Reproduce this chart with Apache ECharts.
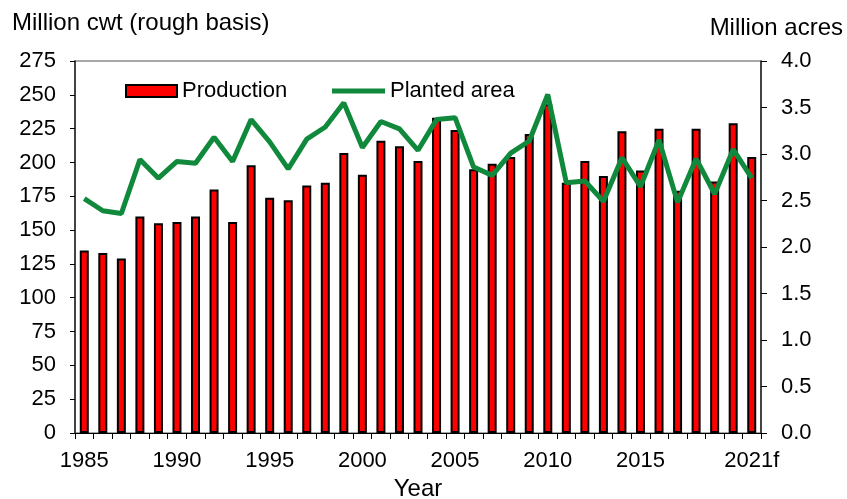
<!DOCTYPE html>
<html>
<head>
<meta charset="utf-8">
<script src="https://cdn.jsdelivr.net/npm/echarts@6/dist/echarts.min.js"></script>
<style>
  html, body { margin: 0; padding: 0; background: #fff; }
</style>
</head>
<body>
<div id="main" style="width: 847px;height:499px;"></div>
<script>
    var years = ['1985','1986','1987','1988','1989','1990','1991','1992','1993','1994',
        '1995','1996','1997','1998','1999','2000','2001','2002','2003','2004',
        '2005','2006','2007','2008','2009','2010','2011','2012','2013','2014',
        '2015','2016','2017','2018','2019','2020','2021f'];
    // million cwt, rough basis
    var production = [135, 133, 129, 160, 155, 156, 160, 180, 156, 198,
        174, 172, 183, 185, 207, 191, 216, 212, 201, 233,
        224, 195, 199, 204, 221, 243, 185, 201, 190, 223,
        194, 225, 179, 225, 186, 229, 204];
    // million acres
    var plantedArea = [2.52, 2.39, 2.36, 2.94, 2.74, 2.92, 2.90, 3.18, 2.92, 3.37,
        3.13, 2.84, 3.16, 3.29, 3.55, 3.07, 3.35, 3.27, 3.04, 3.37,
        3.39, 2.86, 2.77, 3.01, 3.14, 3.64, 2.69, 2.71, 2.49, 2.96,
        2.65, 3.15, 2.48, 2.95, 2.57, 3.05, 2.74];
    var shownLabels = ['1985','1990','1995','2000','2005','2010','2015','2021f'];

    var font = 'Liberation Sans, Arial, sans-serif';
    var fs = 22;
    var green = '#11893C';
    var myChart = echarts.init(document.getElementById('main'));

    var option = {
        animation: false,
        backgroundColor: '#FFFFFF',
        textStyle: {fontFamily: font},
        grid: {
            show: true,
            left: 75,
            right: 86,
            top: 61,
            bottom: 66,
            outerBoundsMode: 'none',
            containLabel: false,
            borderColor: '#8C8C8C',
            borderWidth: 1.5
        },
        // two legends so each icon can have its own height
        legend: [{
            top: 75,
            left: 120,
            itemWidth: 51,
            itemHeight: 12,
            textStyle: {fontSize: fs, color: '#000', fontFamily: font},
            data: [{name: 'Production', icon: 'rect'}]
        }, {
            top: 75,
            left: 327,
            itemWidth: 53,
            itemHeight: 5,
            textStyle: {fontSize: fs, color: '#000', fontFamily: font},
            data: [{name: 'Planted area', icon: 'rect'}]
        }],
        xAxis: {
            type: 'category',
            data: years,
            name: 'Year',
            nameLocation: 'middle',
            nameGap: 44,
            nameTextStyle: {fontSize: 24, color: '#000'},
            axisLine: {lineStyle: {color: '#000', width: 1}},
            axisTick: {show: true, interval: 0, length: 6, lineStyle: {color: '#000'}},
            axisLabel: {
                interval: function (index, value) { return shownLabels.indexOf(value) >= 0; },
                fontSize: fs,
                color: '#000',
                margin: 17
            },
            splitLine: {show: false}
        },
        yAxis: [{
            type: 'value',
            name: 'Million cwt (rough basis)',
            nameLocation: 'end',
            nameGap: 26,
            nameTextStyle: {fontSize: 24, color: '#000', align: 'left', padding: [0, 0, 0, -63]},
            min: 0,
            max: 275,
            interval: 25,
            axisLine: {show: true, lineStyle: {color: '#222', width: 1.5}},
            axisTick: {show: true, length: 5, lineStyle: {color: '#000'}},
            axisLabel: {fontSize: fs, color: '#000', margin: 19},
            splitLine: {show: false}
        }, {
            type: 'value',
            name: 'Million acres',
            nameLocation: 'end',
            nameGap: 21,
            nameTextStyle: {fontSize: 24, color: '#000', align: 'right', padding: [0, -82, 0, 0]},
            min: 0,
            max: 4,
            interval: 0.5,
            position: 'right',
            axisLine: {show: true, lineStyle: {color: '#222', width: 1.5}},
            axisTick: {show: true, length: 6, lineStyle: {color: '#000'}},
            axisLabel: {
                fontSize: fs,
                color: '#000',
                margin: 20,
                formatter: function (v) { return v.toFixed(1); }
            },
            splitLine: {show: false}
        }],
        series: [{
            name: 'Production',
            type: 'bar',
            data: production,
            barWidth: 9,
            itemStyle: {color: '#FF0000', borderColor: '#000', borderWidth: 2}
        }, {
            name: 'Planted area',
            type: 'line',
            yAxisIndex: 1,
            data: plantedArea,
            symbol: 'none',
            lineStyle: {color: green, width: 5},
            itemStyle: {color: green}
        }]
    };

    myChart.setOption(option);
</script>
</body>
</html>
